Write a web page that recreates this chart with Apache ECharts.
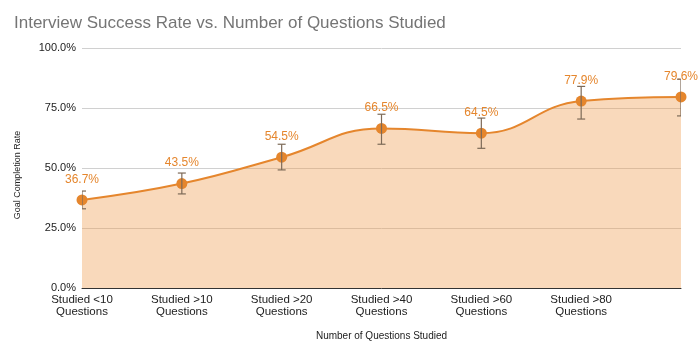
<!DOCTYPE html>
<html><head><meta charset="utf-8">
<script src="https://cdn.jsdelivr.net/npm/echarts@6/dist/echarts.min.js"></script>
<style>html,body{margin:0;padding:0;background:#fff}#c{width:700px;height:356px}</style>
</head><body><div id="c"></div>
<script>
var categories = ['Studied <10\nQuestions','Studied >10\nQuestions','Studied >20\nQuestions','Studied >40\nQuestions','Studied >60\nQuestions','Studied >80\nQuestions',''];
var rates = [36.7, 43.5, 54.5, 66.5, 64.5, 77.9, 79.6];
var errLow = [33.0, 39.2, 49.2, 59.9, 58.2, 70.4, 71.7];
var errHigh = [40.4, 47.9, 59.9, 72.4, 70.8, 84.0, 87.0];
var yTicks = [0, 25, 50, 75, 100];

var chart = echarts.init(document.getElementById('c'));
var F = '"Liberation Sans", Arial, sans-serif';
chart.setOption({
  animation: false,
  title: { text: 'Interview Success Rate vs. Number of Questions Studied', left: 9, top: 10,
    textStyle: { fontFamily: F, fontSize: 17, fontWeight: 'normal', color: '#757575' } },
  grid: { left: 82, right: 19, top: 48, bottom: 68 },
  graphic: [{ type: 'text', x: 18, y: 175, rotation: Math.PI / 2,
    style: { text: 'Goal Completion Rate', fontFamily: F, fontSize: 9, fill: '#222', align: 'center', verticalAlign: 'middle' } }],
  xAxis: { type: 'category', data: categories, boundaryGap: false,
    name: 'Number of Questions Studied', nameLocation: 'middle', nameGap: 43,
    nameTextStyle: { fontFamily: F, fontSize: 10, color: '#222' },
    axisLine: { lineStyle: { color: '#333', width: 1 } }, axisTick: { show: false },
    axisLabel: { fontFamily: F, fontSize: 11.5, color: '#222', margin: 6, lineHeight: 12, interval: 0 } },
  yAxis: { type: 'value', min: 0, max: 100, interval: 25,
    axisLine: { show: false }, axisTick: { show: false },
    splitLine: { lineStyle: { color: '#d0d0d0' } },
    axisLabel: { fontFamily: F, fontSize: 11, color: '#222', margin: 6,
      formatter: function (v) { return yTicks.indexOf(v) >= 0 ? v.toFixed(1) + '%' : ''; } } },
  series: [
    { type: 'line', data: rates, smooth: 0.45, symbol: 'circle', symbolSize: 11,
      lineStyle: { color: '#e5862d', width: 2 }, itemStyle: { color: '#e5862d' },
      areaStyle: { color: '#ee9c4d', opacity: 0.38 },
      label: { show: true, position: 'top', distance: 9, color: '#e5862d', fontFamily: F, fontSize: 12,
        formatter: function (p) { return p.value.toFixed(1) + '%'; } }, z: 3 },
    { type: 'custom', clip: true, z: 4,
      data: rates.map(function (r, i) { return [i, errLow[i], errHigh[i]]; }),
      renderItem: function (params, api) {
        var x = api.value(0);
        var lo = api.coord([x, api.value(1)]);
        var hi = api.coord([x, api.value(2)]);
        var w = 4;
        var st = { stroke: '#7d6a58', lineWidth: 1.2 };
        return { type: 'group', children: [
          { type: 'line', shape: { x1: lo[0], y1: lo[1], x2: hi[0], y2: hi[1] }, style: st },
          { type: 'line', shape: { x1: lo[0] - w, y1: lo[1], x2: lo[0] + w, y2: lo[1] }, style: st },
          { type: 'line', shape: { x1: hi[0] - w, y1: hi[1], x2: hi[0] + w, y2: hi[1] }, style: st }
        ] };
      } }
  ]
});
</script></body></html>
